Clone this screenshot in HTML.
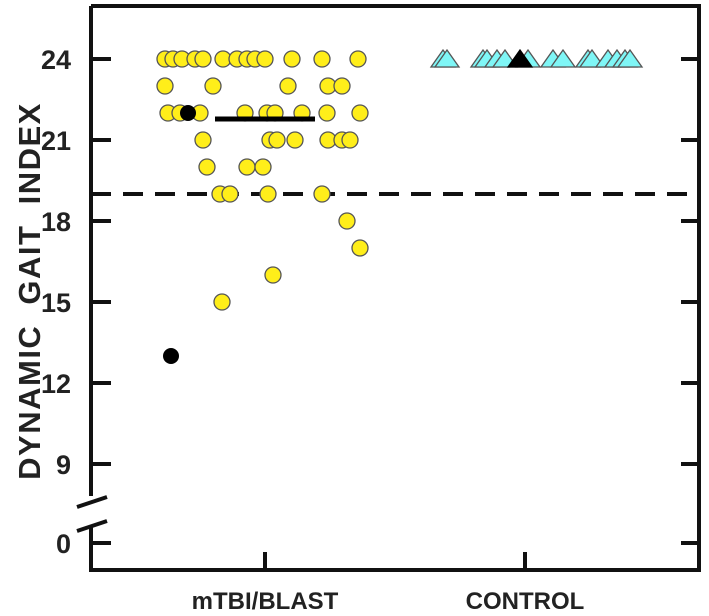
<!DOCTYPE html>
<html><head><meta charset="utf-8"><style>
body{margin:0;background:#fff;}
svg{display:block;font-family:"Liberation Sans",Arial,sans-serif;font-weight:bold;}
</style></head><body>
<svg id="chart" width="709" height="616" viewBox="0 0 709 616"></svg>
<script>
const categories = ["mTBI/BLAST","CONTROL"];
const yTicks = [24,21,18,15,12,9,0];
const mtbiValues = [24,24,24,24,24,24,24,24,24,24,24,24,24,
 23,23,23,23,23,
 22,22,22,22,22,22,22,22,22,
 21,21,21,21,21,21,21,
 20,20,20,
 19,19,19,19,
 18,17,16,15];
const mtbiJitter = [-1.00,-0.92,-0.83,-0.70,-0.62,-0.42,-0.28,-0.18,-0.10,0,0.27,0.57,0.93,
 -1.00,-0.52,0.23,0.63,0.77,
 -0.97,-0.85,-0.65,-0.20,0.02,0.10,0.37,0.62,0.95,
 -0.62,0.05,0.12,0.30,0.63,0.77,0.85,
 -0.58,-0.18,-0.02,
 -0.45,-0.35,0.03,0.57,
 0.82,0.95,0.08,-0.43];
const mtbiHighlightValues = [22,13];
const mtbiHighlightJitter = [-0.77,-0.94];
const mtbiMean = 21.78;
const controlValues = [24,24,24,24,24,24,24,24,24,24,24,24,24,24,24];
const controlJitter = [-0.82,-0.78,-0.42,-0.38,-0.28,-0.20,0.03,0.28,0.38,0.63,0.67,0.83,0.92,1.00,1.05];
const controlHighlightValues = [24];
const controlHighlightJitter = [-0.05];
const cutoff = 19;

const svg = document.getElementById('chart');
const NS = 'http://www.w3.org/2000/svg';
function mk(tag, attrs, parent){const e=document.createElementNS(NS,tag);for(const k in attrs)e.setAttribute(k,attrs[k]);(parent||svg).appendChild(e);return e;}
const catX = [265,525];
function xScale(cat,j){return catX[cat]+j*100;}
function yScale(v){ if(v>=9) return 59+(24-v)*27.0; return 543; }
const L=91,R=699,T=6,B=570;

let e=mk('path',{d:`M${L},${T} H${R} V${B} H${L} V527 M${L},496 V${T}`,fill:'none',stroke:'#111','stroke-width':4});

e=mk('line',{x1:77,y1:507,x2:107,y2:497,stroke:'#111','stroke-width':4});

e=mk('line',{x1:77,y1:531,x2:107,y2:521,stroke:'#111','stroke-width':4});


yTicks.forEach(t=>{
  const y=yScale(t);
  let l=mk('line',{x1:L,y1:y,x2:L+20,y2:y,stroke:'#111','stroke-width':4});
  
  l=mk('line',{x1:R-18,y1:y,x2:R,y2:y,stroke:'#111','stroke-width':4});
  
  const tx=mk('text',{x:71,y:y+10,'text-anchor':'end','font-size':27,fill:'#222'});
  tx.textContent=t;
  
});
categories.forEach((c,i)=>{
  let l=mk('line',{x1:catX[i],y1:B,x2:catX[i],y2:B-18,stroke:'#111','stroke-width':4});
  
  const tx=mk('text',{x:catX[i],y:609,'text-anchor':'middle','font-size':24,fill:'#222'});
  tx.textContent=c;
  
});
e=mk('text',{x:0,y:0,'text-anchor':'middle','font-size':31,fill:'#222','letter-spacing':'1.5','word-spacing':'10',transform:'translate(40,291) rotate(-90)'});
e.textContent='DYNAMIC GAIT INDEX';


e=mk('line',{x1:L,y1:yScale(cutoff),x2:R,y2:yScale(cutoff),stroke:'#111','stroke-width':4,'stroke-dasharray':'20 12'});


mtbiValues.forEach((v,i)=>{
  const c=mk('circle',{cx:xScale(0,mtbiJitter[i]),cy:yScale(v),r:8,fill:'#ffee1a',stroke:'#555','stroke-width':1.3});
  
});
mtbiHighlightValues.forEach((v,i)=>{
  const c=mk('circle',{cx:xScale(0,mtbiHighlightJitter[i]),cy:yScale(v),r:8,fill:'#000'});
  
});
e=mk('line',{x1:xScale(0,-0.5),y1:yScale(mtbiMean),x2:xScale(0,0.5),y2:yScale(mtbiMean),stroke:'#000','stroke-width':5});


function tri(x,y,fill,stroke,name){
  const p=mk('polygon',{points:`${x-12},${y+8} ${x+12},${y+8} ${x},${y-9}`,fill:fill,stroke:stroke,'stroke-width':1.3});
  
}
controlValues.forEach((v,i)=>tri(xScale(1,controlJitter[i]),yScale(v),'#7ff6f6','#555','control-point'));
controlHighlightValues.forEach((v,i)=>tri(xScale(1,controlHighlightJitter[i]),yScale(v),'#000','#000','control-highlight-point'));
</script>
</body></html>
